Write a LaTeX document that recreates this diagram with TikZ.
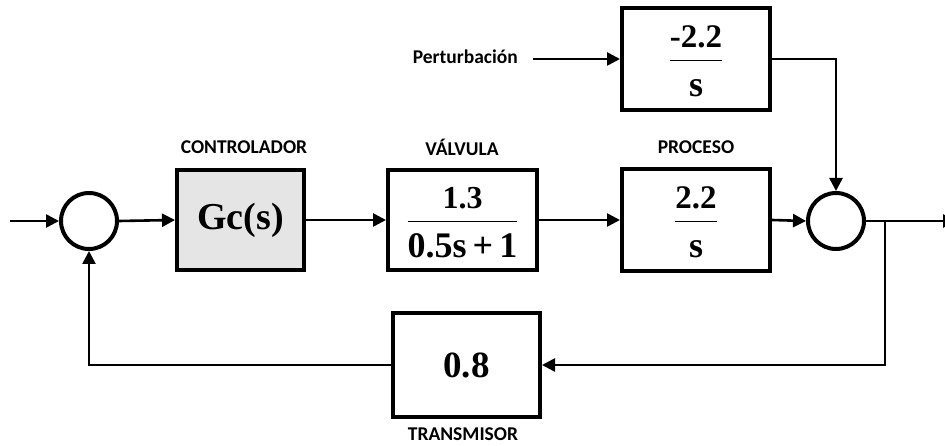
\documentclass[tikz,border=0pt]{standalone}
\usepackage{fontspec}
\setmainfont{Liberation Serif}
\newfontfamily\labfont{Carlito}
\usetikzlibrary{arrows.meta}
\newcommand{\myfrac}[4]{{\setlength{\tabcolsep}{0pt}\setlength{\arrayrulewidth}{1.4pt}\renewcommand{\arraystretch}{0.3}%
\begin{tabular}{c}\fontsize{#1}{#1}\selectfont\rule[-12pt]{0pt}{44pt}#2\\\hline\fontsize{#3}{#3}\selectfont\rule[-6pt]{0pt}{41pt}#4\end{tabular}}}
\tikzset{
  blk/.style={draw, line width=4pt, inner sep=0pt, font=\bfseries},
  sumc/.style={draw, circle, line width=4pt, minimum size=56pt, inner sep=0pt},
  conn/.style={line width=2.6pt, -{Triangle[length=13pt,width=13pt]}},
  lab/.style={font=\labfont\bfseries\fontsize{19.5}{21}\selectfont, inner sep=0pt}
}
\begin{document}
\begin{tikzpicture}[x=1pt,y=-1pt]
\useasboundingbox (0,0) rectangle (945,446);
% nodes
\node[sumc] (s1) at (89,221) {};
\node[blk, fill=black!10, minimum width=127pt, minimum height=100pt, font=\bfseries\fontsize{38}{42}\selectfont] (gc) at (240.5,220) {Gc(s)};
\node[blk, minimum width=149pt, minimum height=100pt] (va) at (462.5,220) {\myfrac{32}{1.3}{36}{0.5s\,+\,1}};
\node[blk, minimum width=148pt, minimum height=102pt] (pr) at (696,220) {\myfrac{33}{2.2}{36}{s}};
\node[blk, minimum width=148pt, minimum height=102pt] (pb) at (696,59) {\myfrac{33}{-2.2}{36}{s}};
\node[sumc] (s2) at (836,221) {};
\node[blk, minimum width=147pt, minimum height=104pt, font=\bfseries\fontsize{37}{40}\selectfont] (tr) at (466.5,365) {0.8};
% labels
\node[lab] (lc) at (244,147) {CONTROLADOR};
\node[lab] (lv) at (462,147) {VÁLVULA};
\node[lab] (lp) at (696,147) {PROCESO};
\node[lab] (lt) at (463,434) {TRANSMISOR};
\node[lab, anchor=east] (lpe) at (518,57) {Perturbación};
% coordinates
\coordinate (in) at (10,221);
\coordinate (out) at (956,221);
\coordinate (br) at (885,221);
% connectors
\draw[conn] (in) -- (s1.west);
\draw[conn] (s1.east) -- (gc.west);
\draw[conn] (gc.east) -- (va.west);
\draw[conn] (va.east) -- (pr.west);
\draw[conn] (pr.east) -- (s2.west);
\draw[conn] ([xshift=15pt]lpe.east |- pb.west) -- (pb.west);
\draw[conn] (pb.east) -| (s2.north);
\draw[conn] (s2.east) -- (out);
\draw[conn] (br) |- (tr.east);
\draw[conn] (tr.west) -| (s1.south);
\end{tikzpicture}
\end{document}
